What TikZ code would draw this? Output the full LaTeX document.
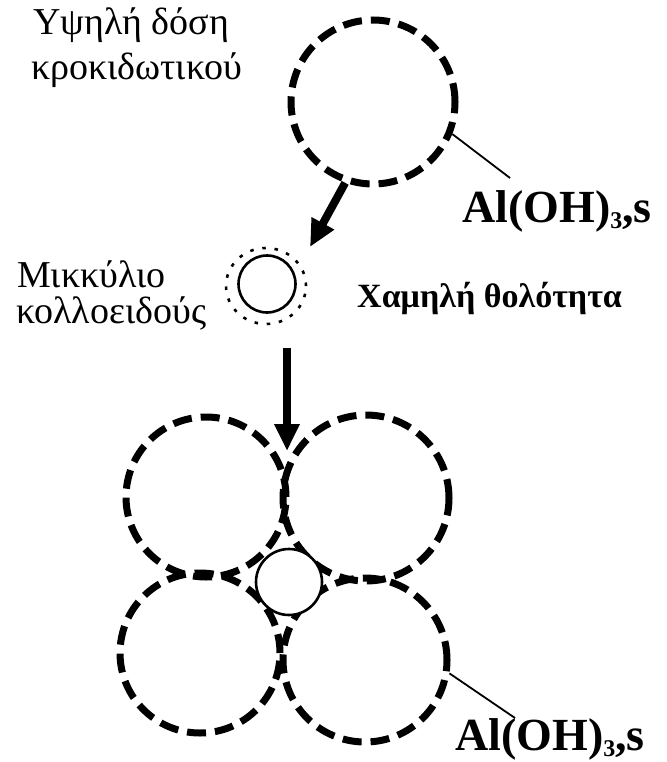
\documentclass[tikz,border=0pt]{standalone}
\usepackage{fontspec}
\setmainfont{Liberation Serif}
\usetikzlibrary{arrows.meta,shapes.geometric}

% chemical formula of the flocs
\newcommand{\alohs}{{\bfseries Al(OH)\raisebox{-0.32ex}{\fontsize{24}{24}\selectfont 3},s}}

\tikzset{
  floc/.style={circle, draw, inner sep=0pt, minimum size=#1,
    line width=7pt, dash pattern=on 19pt off 9pt},
  core/.style={circle, draw, fill=white, inner sep=0pt, line width=2.6pt},
  halo/.style={ellipse, draw, inner sep=0pt, line width=2.6pt,
    dash pattern=on 3.5pt off 8.8pt},
  bigarrow/.style={line width=8pt,
    -{Triangle[length=27pt,width=24pt]}},
  leader/.style={line width=1.8pt},
  greek/.style={anchor=base west, inner sep=0pt,
    font=\fontsize{38}{40}\selectfont},
  formula/.style={anchor=base west, inner sep=0pt,
    font=\fontsize{46}{50}\selectfont},
}

\begin{document}
\begin{tikzpicture}[x=1pt, y=-1pt]
\useasboundingbox (0,0) rectangle (666,762);

% labels
\node[greek] (dose1) at (33,35) {Υψηλή δόση};
\node[greek] (dose2) at (31,80) {κροκιδωτικού};
\node[greek] (mic1) at (17,287) {Μικκύλιο};
\node[greek] (mic2) at (16,323) {κολλοειδούς};
\node[anchor=base west, inner sep=0pt, font=\bfseries\fontsize{34}{36}\selectfont]
  (turb) at (357,307) {Χαμηλή θολότητα};
\node[formula] (al1) at (462,222) {\alohs};
\node[formula] (al2) at (455,750) {\alohs};

% single floc from a high coagulant dose
\node[floc=164pt] (top) at (373,102) {};

% colloid micelle with its diffuse layer
\node[halo, minimum width=80pt, minimum height=76pt] (halo) at (266,286) {};
\node[core, minimum size=57pt] (mic) at (267,284) {};

% cluster of flocs trapping the micelle
\node[floc=160pt] (ul) at (206,497) {};
\node[floc=166pt] (ur) at (366,498) {};
\node[floc=160pt] (ll) at (200,653) {};
\node[floc=164pt] (lr) at (365,660) {};
\node[core, minimum size=66pt] (mid) at (289,582) {};

% arrows between the stages
\coordinate (tip1) at (310,247);
\draw[bigarrow] (top.-109) -- (tip1);
\coordinate (a2s) at (287,348);
\coordinate (a2e) at (287,451);
\draw[bigarrow] (a2s) -- (a2e);

% leader lines to the formula labels
\coordinate (l1) at (510,178);
\draw[leader] (top.-22) -- (l1);
\coordinate (l2) at (515,718);
\draw[leader] (lr.-9) -- (l2);
\end{tikzpicture}
\end{document}
